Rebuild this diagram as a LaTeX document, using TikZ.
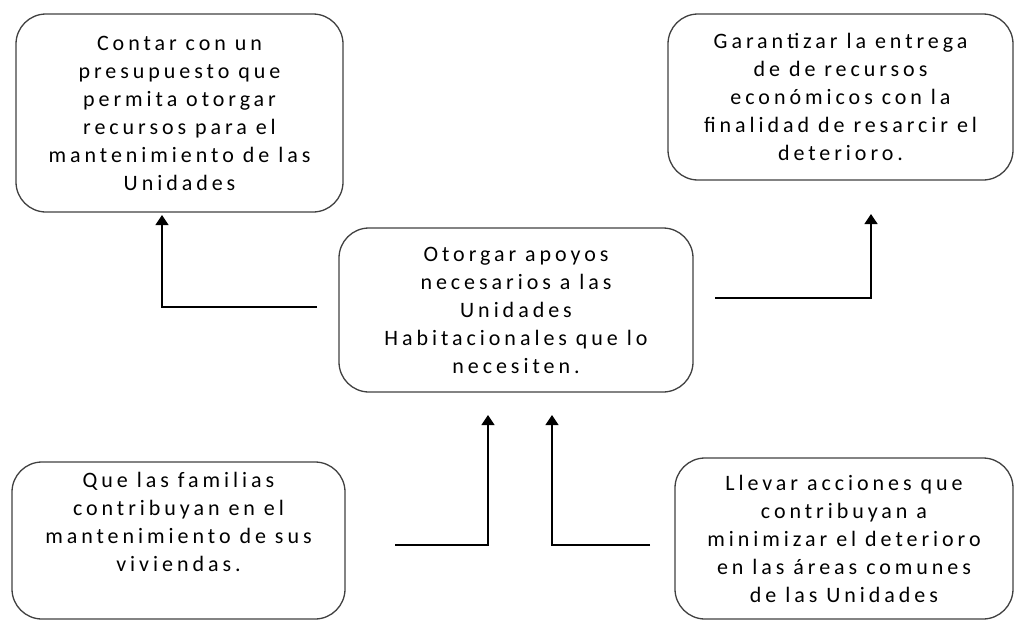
\documentclass[tikz,border=0pt]{standalone}
\usepackage{fontspec}
\setmainfont{Carlito}[LetterSpace=18]
\usetikzlibrary{arrows.meta, positioning, calc}
\tikzset{
	every node/.style={
		align=center,
	},
	caja/.style={draw=black!75, line width=1.3pt, rounded corners=30pt, inner sep=0pt,
		font=\fontsize{22}{28}\selectfont},
	flecha/.style={line width=1.3pt, -{Triangle[width=13pt,length=10pt]}},
}
\begin{document}
\begin{tikzpicture}[x=1pt,y=-1pt]
    \useasboundingbox (0,0) rectangle (1018,621);

    \node[caja, minimum width=354, minimum height=164] (apoyos) at (516,310) {Otorgar apoyos\\ necesarios a las\\ Unidades\\ Habitacionales que lo\\ necesiten.};
    \node[caja, minimum width=327, minimum height=198] (presupuesto) at (179.5,113) {Contar con un\\ presupuesto que\\ permita otorgar\\ recursos para el\\ mantenimiento de las\\ Unidades};
    \node[caja, minimum width=345, minimum height=166] (garantizar) at (840.5,97) {Garantizar la entrega\\ de de recursos\\ económicos con la\\ finalidad de resarcir el\\ deterioro.};
    \node[caja, minimum width=333, minimum height=157] (familias) at (178.5,540.5) {Que las familias\\ contribuyan en el\\ mantenimiento de sus\\ viviendas.\\[10pt]};
    \node[caja, minimum width=338, minimum height=161] (acciones) at (844,538.5) {Llevar acciones que\\ contribuyan a\\ minimizar el deterioro\\ en las áreas comunes\\ de las Unidades};

    \coordinate (izq) at (317,307);
    \coordinate (izqtip) at (162,215);
    \coordinate (der) at (715,298);
    \coordinate (dertip) at (871,214);
    \coordinate (abizq) at (395,545);
    \coordinate (abizqtip) at (488,415);
    \coordinate (abder) at (650,545);
    \coordinate (abdertip) at (552,415);

    \draw[flecha] (izq) -| (izqtip);
    \draw[flecha] (der) -| (dertip);
    \draw[flecha] (abizq) -| (abizqtip);
    \draw[flecha] (abder) -| (abdertip);

\end{tikzpicture}
\end{document}
